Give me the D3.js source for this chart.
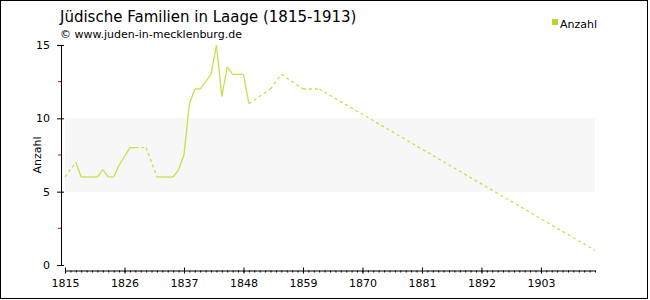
<!DOCTYPE html>
<html>
<head>
<meta charset="utf-8">
<script src="https://cdn.jsdelivr.net/npm/d3@7"></script>
<style>
  body { margin: 0; background: #fff; }
  svg text { font-family: "DejaVu Sans", Verdana, sans-serif; fill: #000; }
</style>
</head>
<body>
<div id="chart"></div>
<script>
// Jewish families in Laage
const years = [1815, 1817, 1818, 1819, 1820, 1821, 1822, 1823, 1824, 1825, 1826, 1827, 1828, 1830,
  1832, 1833, 1834, 1835, 1836, 1837, 1838, 1839, 1840, 1841, 1842, 1843, 1844, 1845, 1846, 1847,
  1848, 1849, 1853, 1855, 1859, 1862, 1913];
const counts = [6, 7, 6, 6, 6, 6, 6.5, 6, 6, 6.8, 7.4, 8, 8, 8,
  6, 6, 6, 6, 6.5, 7.5, 11, 12, 12, 12.5, 13, 15, 11.5, 13.5, 13, 13,
  13, 11, 12, 13, 12, 12, 1];
const xTickYears = [1815, 1826, 1837, 1848, 1859, 1870, 1881, 1892, 1903];
const yTicks = [0, 5, 10, 15];
const yMinorTicks = [2.5, 7.5, 12.5];
const seriesName = "Anzahl";

const width = 650, height = 300;
const lineColor = "#c8e04e";

const svg = d3.select("#chart").append("svg")
  .attr("width", width)
  .attr("height", height);

// frame
svg.append("rect")
  .attr("x", 0.5).attr("y", 0.5)
  .attr("width", 647).attr("height", 298)
  .attr("fill", "#fff")
  .attr("stroke", "#000");

const x = d3.scaleLinear().domain([1815, 1913]).range([65, 595]);
const y = d3.scaleLinear().domain([0, 15]).range([265, 45]);

// light band between 5 and 10
svg.append("rect")
  .attr("x", x(1815))
  .attr("y", y(10))
  .attr("width", x(1913) - x(1815))
  .attr("height", y(5) - y(10))
  .attr("fill", "#f7f7f7");

// titles
svg.append("text")
  .attr("x", 60).attr("y", 22)
  .attr("font-size", "15px")
  .text("Jüdische Familien in Laage (1815-1913)");

svg.append("text")
  .attr("x", 60).attr("y", 38)
  .attr("font-size", "11px")
  .text("© www.juden-in-mecklenburg.de");

// legend
svg.append("rect")
  .attr("x", 552).attr("y", 19)
  .attr("width", 6).attr("height", 6)
  .attr("fill", "#b8d432");
svg.append("text")
  .attr("x", 560).attr("y", 28)
  .attr("font-size", "11px")
  .text(seriesName);

// y axis
const yAxisG = svg.append("g")
  .attr("transform", "translate(61,0)")
  .call(d3.axisLeft(y).tickValues(yTicks).tickSizeOuter(0).tickPadding(5));
yAxisG.selectAll(".tick line").attr("x1", 3).attr("x2", -4);
yAxisG.selectAll(".tick text").attr("font-size", "11px").style("font-family", "DejaVu Sans");

yAxisG.selectAll(".minor")
  .data(yMinorTicks)
  .join("line")
  .attr("class", "minor")
  .attr("x1", -3).attr("x2", 0)
  .attr("y1", d => y(d)).attr("y2", d => y(d))
  .attr("stroke", "#e00000");

svg.append("text")
  .attr("transform", `translate(41,${y(7.5)}) rotate(-90)`)
  .attr("text-anchor", "middle")
  .attr("font-size", "11px")
  .text(seriesName);

// x axis: minor yearly ticks, then major ticks with labels
const xAxisY = 270.5;
svg.append("g")
  .attr("transform", `translate(0,${xAxisY})`)
  .call(d3.axisBottom(x).tickValues(d3.range(1815, 1914)).tickSize(2).tickSizeOuter(0).tickFormat(""))
  .call(g => g.select(".domain").remove());

const xAxisG = svg.append("g")
  .attr("transform", `translate(0,${xAxisY})`)
  .call(d3.axisBottom(x).tickValues(xTickYears).tickSizeOuter(0).tickFormat(d3.format("d")).tickPadding(3));
xAxisG.selectAll(".tick line").attr("y1", -3).attr("y2", 3);
xAxisG.selectAll(".tick text").attr("font-size", "11px").style("font-family", "DejaVu Sans");

// line: solid between consecutive years, dashed across gaps
const points = years.map((yr, i) => ({year: yr, value: counts[i]}));
const segments = d3.pairs(points);
const line = d3.line().x(d => x(d.year)).y(d => y(d.value));

svg.append("g")
  .selectAll("path")
  .data(segments)
  .join("path")
  .attr("d", d => line(d))
  .attr("fill", "none")
  .attr("stroke", lineColor)
  .attr("stroke-width", 1.3)
  .attr("stroke-dasharray", d => d[1].year - d[0].year > 1 ? "3,3" : null);
</script>
</body>
</html>
